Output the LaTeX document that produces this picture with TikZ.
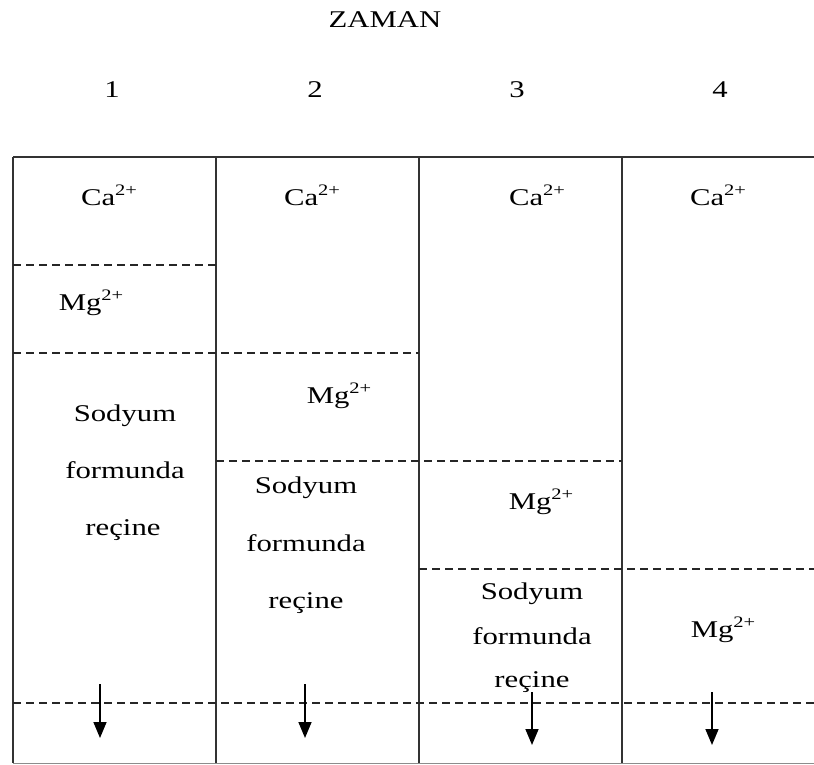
\documentclass[tikz,border=0pt]{standalone}
\usepackage{fontspec}
\setmainfont[FakeStretch=1.28]{Liberation Serif}
\usetikzlibrary{arrows.meta}
\newcommand\chg[2]{#1\raisebox{0.4em}{\fontsize{16}{16}\selectfont #2}}
\tikzset{
  lbl/.style={anchor=base, inner sep=0pt, font=\fontsize{24}{27}\selectfont, text=black},
  wall/.style={line width=1.5pt, draw=black!80},
  sep/.style={line width=1.4pt, draw=black!85, dash pattern=on 8pt off 5pt},
  flow/.style={line width=1.6pt, -{Triangle[width=13pt,length=16pt]}}
}
\begin{document}
\begin{tikzpicture}[x=1pt,y=-1pt]
\useasboundingbox (0,0) rectangle (814,765);
% title and columns
\node[lbl] (zaman) at (385,28) {ZAMAN};
\node[lbl] (n1) at (112,98) {1};
\node[lbl] (n2) at (315,98) {2};
\node[lbl] (n3) at (517,98) {3};
\node[lbl] (n4) at (720,98) {4};
% frame
\draw[wall] (13,157) -- (814,157);
\draw[wall] (13,157) -- (13,763);
\draw[wall] (216,157) -- (216,763);
\draw[wall] (419,157) -- (419,763);
\draw[wall] (622,157) -- (622,763);
\draw[line width=1pt, draw=black!45] (13,763) -- (814,763);
% dashed separators
\draw[sep] (13,265) -- (216,265);
\draw[sep] (13,353) -- (419,353);
\draw[sep] (216,461) -- (622,461);
\draw[sep] (419,569) -- (814,569);
\draw[sep] (13,703) -- (814,703);
% column 1
\node[lbl] (ca1) at (109,205) {\chg{Ca}{2+}};
\node[lbl] (mg1) at (91,310) {\chg{Mg}{2+}};
\node[lbl] (s1a) at (125,421) {Sodyum};
\node[lbl] (s1b) at (125,478) {formunda};
\node[lbl] (s1c) at (123,535) {reçine};
% column 2
\node[lbl] (ca2) at (312,205) {\chg{Ca}{2+}};
\node[lbl] (mg2) at (339,403) {\chg{Mg}{2+}};
\node[lbl] (s2a) at (306,493) {Sodyum};
\node[lbl] (s2b) at (306,551) {formunda};
\node[lbl] (s2c) at (306,608) {reçine};
% column 3
\node[lbl] (ca3) at (537,205) {\chg{Ca}{2+}};
\node[lbl] (mg3) at (541,509) {\chg{Mg}{2+}};
\node[lbl] (s3a) at (532,599) {Sodyum};
\node[lbl] (s3b) at (532,644) {formunda};
\node[lbl] (s3c) at (532,687) {reçine};
% column 4
\node[lbl] (ca4) at (718,205) {\chg{Ca}{2+}};
\node[lbl] (mg4) at (723,637) {\chg{Mg}{2+}};
% flow arrows
\coordinate (a1s) at (100,684); \coordinate (a1e) at (100,738);
\coordinate (a2s) at (305,684); \coordinate (a2e) at (305,738);
\coordinate (a3s) at (532,692); \coordinate (a3e) at (532,745);
\coordinate (a4s) at (712,692); \coordinate (a4e) at (712,745);
\draw[flow] (a1s) -- (a1e);
\draw[flow] (a2s) -- (a2e);
\draw[flow] (a3s) -- (a3e);
\draw[flow] (a4s) -- (a4e);
\end{tikzpicture}
\end{document}
